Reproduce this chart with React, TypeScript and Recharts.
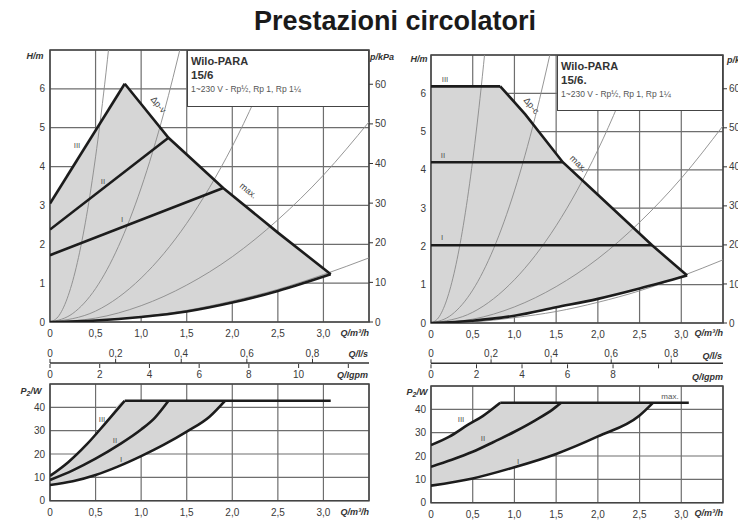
import React from 'react';
import { ComposedChart, Line, Area, XAxis, YAxis, CartesianGrid, ReferenceArea } from 'recharts';

type Pt = [number, number];
type Band = [number, number, number];

const FONT = "'Liberation Sans', Arial, sans-serif";

// ---------- tick values ----------
const qTicks = [0, 0.5, 1, 1.5, 2, 2.5, 3];
const hTicks = [0, 1, 2, 3, 4, 5, 6];
const kpaTicks = [0, 10, 20, 30, 40, 50, 60];
const pTicks = [0, 10, 20, 30, 40];
const lsTicks = [0, 0.2, 0.4, 0.6, 0.8];
const gpmTicksLeft = [0, 2, 4, 6, 8, 10, 12];
const gpmTicksRight = [0, 2, 4, 6, 8, 10];

// ---------- thin system curves (Q m³/h, H m) ----------
const sys1: Pt[] = [[0, 0], [0.1, 0.17], [0.2, 0.68], [0.3, 1.53], [0.4, 2.72], [0.5, 4.25], [0.6, 6.12], [0.66, 7.4]];
const sys2: Pt[] = [[0, 0], [0.25, 0.22], [0.5, 0.86], [0.75, 1.94], [1.0, 3.45], [1.25, 5.39], [1.45, 7.25]];
const sys3: Pt[] = [[0, 0], [0.5, 0.28], [1.0, 1.13], [1.5, 2.54], [2.0, 4.52], [2.5, 7.06]];
const sys4: Pt[] = [[0, 0], [0.5, 0.1], [1.0, 0.42], [1.5, 0.95], [2.0, 1.68], [2.5, 2.63], [3.0, 3.78], [3.5, 5.15]];
const sys5: Pt[] = [[0, 0], [0.5, 0.03], [1.0, 0.14], [1.5, 0.3], [2.0, 0.54], [2.5, 0.84], [3.0, 1.22], [3.5, 1.65]];
const systemCurves = [sys1, sys2, sys3, sys4, sys5];

// ---------- left pump: Wilo-PARA 15/6 (Δp-v) ----------
const leftIII: Pt[] = [[0, 3.05], [0.82, 6.13]];
const leftII: Pt[] = [[0, 2.38], [1.3, 4.74]];
const leftI: Pt[] = [[0, 1.72], [1.9, 3.45]];
const leftMax: Pt[] = [[0.82, 6.13], [1.3, 4.74], [1.9, 3.45], [2.5, 2.3], [3.08, 1.23]];
const leftMin: Pt[] = [[0, 0], [0.5, 0.04], [1, 0.13], [1.5, 0.27], [2, 0.5], [2.5, 0.8], [3.08, 1.23]];
const leftField: Band[] = [[0, 0, 3.05], [0.5, 0.04, 4.93], [0.82, 0.09, 6.13], [1.0, 0.13, 5.61], [1.3, 0.22, 4.74], [1.5, 0.27, 4.31], [1.9, 0.45, 3.45], [2.0, 0.5, 3.26], [2.5, 0.8, 2.3], [3.08, 1.23, 1.23]];

const leftPIII: Pt[] = [[0, 10.6], [0.2, 16.5], [0.4, 24], [0.6, 32.8], [0.82, 42.8]];
const leftPII: Pt[] = [[0, 8.9], [0.25, 13], [0.5, 18], [0.75, 23.8], [1.0, 30.5], [1.15, 35.5], [1.3, 42.8]];
const leftPI: Pt[] = [[0, 6.7], [0.25, 8.3], [0.5, 11], [0.75, 14.7], [1.0, 19.1], [1.25, 24], [1.5, 29.6], [1.75, 36], [1.92, 42.8]];
const leftPTop: Pt[] = [[0.82, 42.8], [3.08, 42.8]];
const leftPField: Band[] = [[0, 6.7, 10.6], [0.2, 7.9, 16.5], [0.4, 9.9, 24], [0.6, 12.6, 32.8], [0.82, 15.8, 42.8], [1.0, 19.1, 42.8], [1.25, 24, 42.8], [1.5, 29.6, 42.8], [1.75, 36, 42.8], [1.92, 42.8, 42.8]];

// ---------- right pump: Wilo-PARA 15/6. (Δp-c) ----------
const rightIII: Pt[] = [[0, 6.18], [0.83, 6.18]];
const rightII: Pt[] = [[0, 4.2], [1.58, 4.2]];
const rightI: Pt[] = [[0, 2.03], [2.65, 2.03]];
const rightMax: Pt[] = [[0.83, 6.18], [1.13, 5.45], [1.58, 4.2], [2.0, 3.35], [2.65, 2.03], [3.07, 1.24]];
const rightMin: Pt[] = [[0, 0], [0.5, 0.06], [1, 0.19], [1.5, 0.41], [2, 0.63], [2.5, 0.9], [3.07, 1.24]];
const rightField: Band[] = [[0, 0, 6.18], [0.5, 0.06, 6.18], [0.83, 0.12, 6.18], [1.13, 0.22, 5.45], [1.58, 0.43, 4.2], [2.0, 0.63, 3.35], [2.65, 0.99, 2.03], [3.07, 1.24, 1.24]];

const rightPIII: Pt[] = [[0, 24.7], [0.22, 28.3], [0.44, 33.3], [0.62, 37.1], [0.83, 42.8]];
const rightPII: Pt[] = [[0, 15.4], [0.25, 18.4], [0.5, 21.8], [0.75, 26], [1.0, 30.4], [1.25, 35.3], [1.46, 40], [1.56, 42.8]];
const rightPI: Pt[] = [[0, 7.3], [0.5, 10.4], [1.0, 15.2], [1.5, 20.9], [2.0, 28.4], [2.5, 37.4], [2.66, 42.8]];
const rightPTop: Pt[] = [[0.83, 42.8], [3.09, 42.8]];
const rightPField: Band[] = [[0, 7.3, 24.7], [0.22, 8.6, 28.3], [0.44, 10, 33.3], [0.62, 11.5, 37.1], [0.83, 13.5, 42.8], [1.0, 15.2, 42.8], [1.5, 20.9, 42.8], [2.0, 28.4, 42.8], [2.5, 37.4, 42.8], [2.66, 42.8, 42.8]];

// ---------- helpers ----------
const toPts = (a: Pt[]) => a.map(([q, v]) => ({ q, v }));
const toBand = (a: Band[]) => a.map(([q, lo, hi]) => ({ q, v: [lo, hi] }));
const fmtDec = (v: number) => (v === 0 ? '0' : v.toFixed(1).replace('.', ','));
const tickStyle = { fontSize: 10, fill: '#3a3a3a', fontFamily: FONT };

const Q_MAX = 3.5;
const H_MAX = 7;
const P_MAX = 50;
const LS_PER_M3H = 1 / 3.6;
const GPM_PER_M3H = 3.6662;

type Geo = { w: number; h: number; m: { top: number; left: number; right: number; bottom: number } };

const thick = (data: Pt[], key: string, type: 'linear' | 'monotone' = 'linear') => (
  <Line key={key} data={toPts(data)} dataKey="v" type={type} stroke="#1c1c1c" strokeWidth={2.6} dot={false} isAnimationActive={false} />
);

function HeadChart({ g, field, straight, curvedMin }: { g: Geo; field: Band[]; straight: Pt[][]; curvedMin: Pt[] }) {
  return (
    <div style={{ position: 'absolute', left: 0, top: 0 }}>
      <ComposedChart width={g.w} height={g.h} margin={g.m}>
        <XAxis dataKey="q" type="number" domain={[0, Q_MAX]} ticks={qTicks} allowDataOverflow interval={0}
          tickFormatter={fmtDec} tickLine={false} axisLine={false} tick={tickStyle} height={20} />
        <YAxis type="number" domain={[0, H_MAX]} ticks={hTicks} allowDataOverflow interval={0}
          tickLine={false} axisLine={false} tick={tickStyle} width={30} tickSize={0} tickMargin={5} />
        <YAxis yAxisId="kpa" orientation="right" type="number" domain={[0, H_MAX * 9.80665]} ticks={kpaTicks}
          allowDataOverflow interval={0} axisLine={false} tickSize={4} tickMargin={2}
          tickLine={{ stroke: '#333' }} tick={tickStyle} width={25} />
        <Area data={toBand(field)} dataKey="v" type="linear" fill="#d6d6d6" fillOpacity={1} stroke="none" isAnimationActive={false} />
        <CartesianGrid stroke="#6e6e6e" strokeWidth={1.2} />
        {systemCurves.map((s, i) => (
          <Line key={'s' + i} data={toPts(s)} dataKey="v" type="monotone" stroke="#8a8a8a" strokeWidth={0.9} dot={false} isAnimationActive={false} />
        ))}
        {straight.map((l, i) => thick(l, 'l' + i))}
        {thick(curvedMin, 'min', 'monotone')}
        <ReferenceArea x1={0} x2={Q_MAX} y1={0} y2={H_MAX} fill="none" stroke="#444" strokeWidth={1.5} />
      </ComposedChart>
    </div>
  );
}

function PowerChart({ g, field, curves, top }: { g: Geo; field: Band[]; curves: Pt[][]; top: Pt[] }) {
  return (
    <div style={{ position: 'absolute', left: 0, top: 0 }}>
      <ComposedChart width={g.w} height={g.h} margin={g.m}>
        <XAxis dataKey="q" type="number" domain={[0, Q_MAX]} ticks={qTicks} allowDataOverflow interval={0}
          tickFormatter={fmtDec} tickLine={false} axisLine={false} tick={tickStyle} height={20} />
        <YAxis type="number" domain={[0, P_MAX]} ticks={pTicks} allowDataOverflow interval={0}
          tickLine={false} axisLine={false} tick={tickStyle} width={30} tickSize={0} tickMargin={5} />
        <Area data={toBand(field)} dataKey="v" type="monotone" fill="#d6d6d6" fillOpacity={1} stroke="none" isAnimationActive={false} />
        <CartesianGrid stroke="#6e6e6e" strokeWidth={1.2} />
        {curves.map((c, i) => thick(c, 'p' + i, 'monotone'))}
        {thick(top, 'top')}
        <ReferenceArea x1={0} x2={Q_MAX} y1={0} y2={P_MAX} fill="none" stroke="#444" strokeWidth={1.5} />
      </ComposedChart>
    </div>
  );
}

function FlowAxes({ g, gpmTicks, gpmLabelMax }: { g: Geo; gpmTicks: number[]; gpmLabelMax: number }) {
  const lsMax = Q_MAX * LS_PER_M3H;
  const gpmMax = Q_MAX * GPM_PER_M3H;
  return (
    <div style={{ position: 'absolute', left: 0, top: 0 }}>
      <ComposedChart width={g.w} height={g.h} margin={g.m}>
        <XAxis xAxisId="ls" dataKey="q" orientation="top" type="number" domain={[0, lsMax]} ticks={lsTicks}
          allowDataOverflow interval={0} height={20} tickSize={4} tickMargin={2} tickFormatter={fmtDec}
          axisLine={{ stroke: '#333', strokeWidth: 1.5 }} tickLine={{ stroke: '#333' }} tick={tickStyle} />
        <XAxis xAxisId="gpm" dataKey="q" orientation="bottom" type="number" domain={[0, gpmMax]} ticks={gpmTicks}
          allowDataOverflow interval={0} height={20} tickSize={4} tickMargin={3}
          tickFormatter={(v: number) => (v > gpmLabelMax ? '' : String(v))}
          axisLine={false} tickLine={{ stroke: '#333' }} tick={tickStyle} />
        <YAxis hide domain={[0, 1]} allowDataOverflow />
        <Line xAxisId="ls" data={lsTicks.map((q) => ({ q, v: 0.5 }))} dataKey="v" stroke="none" dot={false} isAnimationActive={false} />
        <Line xAxisId="gpm" data={gpmTicks.map((q) => ({ q, v: 0.5 }))} dataKey="v" stroke="none" dot={false} isAnimationActive={false} />
      </ComposedChart>
    </div>
  );
}

function Txt({ x, y, text, size = 10, weight = 400, italic = false, color = '#333', align = 'center', rotate = 0 }:
  { x: number; y: number; text: React.ReactNode; size?: number; weight?: number; italic?: boolean; color?: string; align?: string; rotate?: number }) {
  const tx = align === 'center' ? '-50%' : align === 'right' ? '-100%' : '0';
  return (
    <div style={{
      position: 'absolute', left: x, top: y, transform: `translate(${tx},-50%) rotate(${rotate}deg)`,
      fontSize: size, fontWeight: weight, fontStyle: italic ? 'italic' : 'normal', color,
      whiteSpace: 'nowrap', lineHeight: 1, fontFamily: FONT,
    }}>{text}</div>
  );
}

function InfoBox({ x, y, w, h, model }: { x: number; y: number; w: number; h: number; model: string }) {
  return (
    <div style={{ position: 'absolute', left: x, top: y, width: w, height: h, boxSizing: 'border-box', border: '1.5px solid #444', background: '#fff', fontFamily: FONT, color: '#333' }}>
      <div style={{ position: 'absolute', left: 3, top: 5, fontSize: 11, fontWeight: 700, lineHeight: 1 }}>Wilo-PARA</div>
      <div style={{ position: 'absolute', left: 3, top: 19, fontSize: 11.5, fontWeight: 700, lineHeight: 1 }}>{model}</div>
      <div style={{ position: 'absolute', left: 3, top: 34, fontSize: 8.5, color: '#555', lineHeight: 1 }}>1~230 V - Rp½, Rp 1, Rp 1¼</div>
    </div>
  );
}

const axisName = { size: 9, weight: 700, italic: true, color: '#333' };
const curveLab = { size: 8, color: '#555' };

export default function App() {
  return (
    <div style={{ position: 'fixed', left: 0, top: 0, width: 738, height: 520, overflow: 'hidden', background: '#fff', fontFamily: FONT }}>
      <Txt x={395} y={21} text="Prestazioni circolatori" size={27} weight={700} color="#1a1a1a" />

      {/* left pump */}
      <HeadChart g={{ w: 400, h: 345, m: { top: 50, left: 20, right: 6, bottom: 3 } }} field={leftField}
        straight={[leftIII, leftII, leftI, leftMax]} curvedMin={leftMin} />
      <FlowAxes g={{ w: 400, h: 384, m: { top: 343, left: 50, right: 31, bottom: 0 } }} gpmTicks={gpmTicksLeft} gpmLabelMax={10} />
      <PowerChart g={{ w: 400, h: 522, m: { top: 384, left: 20, right: 31, bottom: 1.3 } }} field={leftPField}
        curves={[leftPIII, leftPII, leftPI]} top={leftPTop} />

      {/* right pump */}
      <HeadChart g={{ w: 760, h: 345, m: { top: 55, left: 401, right: 12, bottom: 2 } }} field={rightField}
        straight={[rightIII, rightII, rightI, rightMax]} curvedMin={rightMin} />
      <FlowAxes g={{ w: 760, h: 384.3, m: { top: 343.3, left: 431, right: 37, bottom: 0 } }} gpmTicks={gpmTicksRight} gpmLabelMax={8} />
      <PowerChart g={{ w: 760, h: 524, m: { top: 386, left: 401, right: 37, bottom: 1.3 } }} field={rightPField}
        curves={[rightPIII, rightPII, rightPI]} top={rightPTop} />

      <InfoBox x={187} y={50} w={182} h={57} model="15/6" />
      <InfoBox x={557} y={55} w={166} h={56} model="15/6." />

      {/* axis names */}
      <Txt x={35} y={56} text="H/m" {...axisName} />
      <Txt x={382} y={57} text="p/kPa" {...axisName} />
      <Txt x={369} y={333} text="Q/m³/h" align="right" {...axisName} />
      <Txt x={368} y={354} text="Q/l/s" align="right" {...axisName} />
      <Txt x={368} y={375} text="Q/Igpm" align="right" {...axisName} />
      <Txt x={31} y={392} text={<span>P<sub style={{ fontSize: 7 }}>2</sub>/W</span>} {...axisName} />
      <Txt x={369} y={512} text="Q/m³/h" align="right" {...axisName} />

      <Txt x={419} y={59} text="H/m" {...axisName} />
      <Txt x={727} y={60} text="p/kPa" align="left" {...axisName} />
      <Txt x={723} y={333} text="Q/m³/h" align="right" {...axisName} />
      <Txt x={722} y={356} text="Q/l/s" align="right" {...axisName} />
      <Txt x={723} y={377} text="Q/Igpm" align="right" {...axisName} />
      <Txt x={417} y={393} text={<span>P<sub style={{ fontSize: 7 }}>2</sub>/W</span>} {...axisName} />
      <Txt x={723} y={513} text="Q/m³/h" align="right" {...axisName} />

      {/* curve labels */}
      <Txt x={77} y={146} text="III" {...curveLab} />
      <Txt x={103} y={182} text="II" {...curveLab} />
      <Txt x={122} y={220} text="I" {...curveLab} />
      <Txt x={158} y={105} text="Δp-v" size={9} color="#444" rotate={50} />
      <Txt x={248} y={191} text="max." size={9} color="#444" rotate={40} />
      <Txt x={102} y={420} text="III" {...curveLab} />
      <Txt x={115} y={441} text="II" {...curveLab} />
      <Txt x={121} y={460} text="I" {...curveLab} />

      <Txt x={445} y={80} text="III" {...curveLab} />
      <Txt x={443} y={156} text="II" {...curveLab} />
      <Txt x={442} y={238} text="I" {...curveLab} />
      <Txt x={531} y={106} text="Δp-c" size={9} color="#444" rotate={50} />
      <Txt x={578} y={164} text="max." size={9} color="#444" rotate={45} />
      <Txt x={461} y={420} text="III" {...curveLab} />
      <Txt x={483} y={439} text="II" {...curveLab} />
      <Txt x={518} y={462} text="I" {...curveLab} />
      <Txt x={670} y={397} text="max." size={8} color="#555" />
    </div>
  );
}
